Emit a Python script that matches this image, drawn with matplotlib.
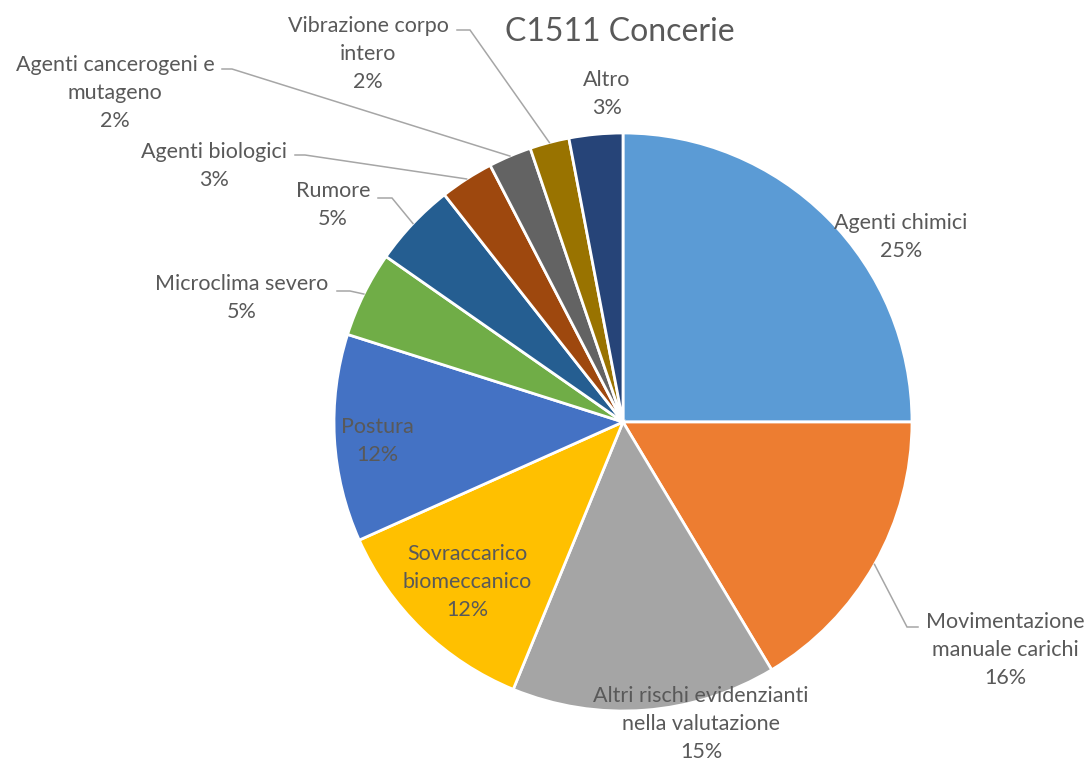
import matplotlib.pyplot as plt
import numpy as np

# Risk categories (clockwise from 12 o'clock)
categories = ['Agenti chimici', 'Movimentazione\nmanuale carichi',
              'Altri rischi evidenzianti\nnella valutazione',
              'Sovraccarico\nbiomeccanico', 'Postura', 'Microclima severo',
              'Rumore', 'Agenti biologici', 'Agenti cancerogeni e\nmutageno',
              'Vibrazione corpo\nintero', 'Altro']
values = [25.0, 16.4, 14.8, 12.1, 11.6, 4.8, 4.7, 3.0, 2.4, 2.2, 3.0]
colors = ['#5B9BD5', '#ED7D31', '#A5A5A5', '#FFC000', '#4472C4', '#70AD47',
          '#255E91', '#9E480E', '#636363', '#997300', '#264478']

# label layout in pixels (x, y from top)
label_pos = [(901, 237), (1005, 650), (701, 724), (467, 582), (377, 441),
             (242, 298), (333, 205), (214, 166), (115, 93), (368, 54), (607, 94)]
# leader lines: label-side start and knee (None = no leader)
leaders = {1: ((918, 627), (907, 627)),
           5: ((337, 291), (350, 291)),
           6: ((378, 198), (392, 198)),
           7: ((295, 155), (305, 155)),
           8: ((222, 69), (232, 69)),
           9: ((457, 30), (470, 30))}

W, H = 1090, 765
cx, cy, r = 623, 422, 289
text_color = '#595959'
plt.rcParams['font.family'] = ['Lato', 'DejaVu Sans']

fig = plt.figure(figsize=(10.9, 7.65), dpi=100)
ax = fig.add_axes([0, 0, 1, 1])

wedges, _ = ax.pie(values, colors=colors, startangle=90, counterclock=False,
                   center=(cx, H - cy), radius=r,
                   wedgeprops=dict(edgecolor='white', linewidth=2))

total = sum(values)
for i, (w, lab) in enumerate(zip(wedges, categories)):
    x, y = label_pos[i]
    ax.text(x, H - y, f'{lab}\n{values[i] / total * 100:.0f}%', ha='center',
            va='center', fontsize=15.5, color=text_color, linespacing=1.5)
    if i in leaders:
        (sx, sy), (kx, ky) = leaders[i]
        theta = np.deg2rad((w.theta1 + w.theta2) / 2)
        ex, ey = cx + r * np.cos(theta), (H - cy) + r * np.sin(theta)
        ax.plot([sx, kx, ex], [H - sy, H - ky, ey], color='#A6A6A6', lw=1.1,
                solid_joinstyle='miter')

ax.text(620, H - 32, 'C1511 Concerie', ha='center', va='center',
        fontsize=23, color=text_color)

ax.set_xlim(0, W)
ax.set_ylim(0, H)
ax.set_aspect('equal')
ax.axis('off')

fig.savefig('out.png', dpi=100, facecolor='white')
